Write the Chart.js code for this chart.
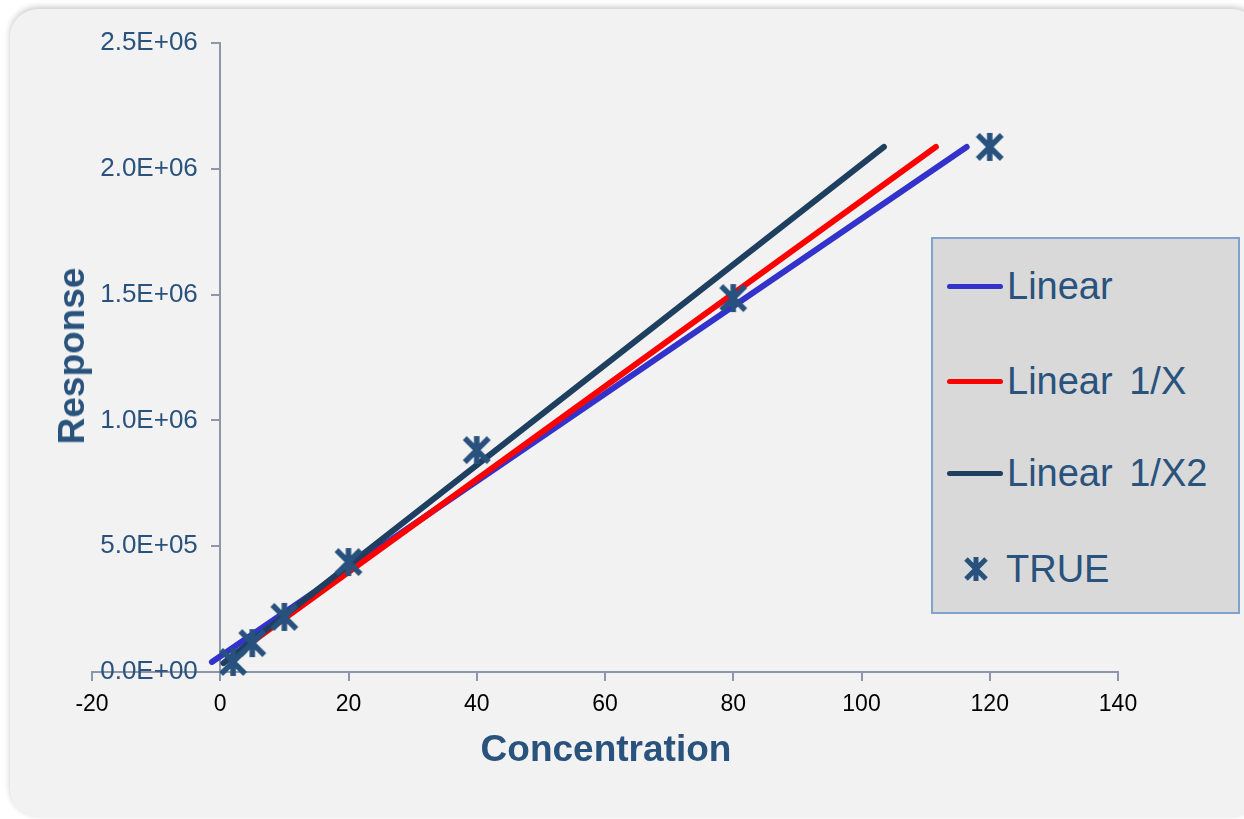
<!DOCTYPE html>
<html>
<head>
<meta charset="utf-8">
<script src="https://cdn.jsdelivr.net/npm/chart.js@4.4.1/dist/chart.umd.min.js"></script>
<style>
  html, body { margin: 0; padding: 0; background: #ffffff; width: 1244px; height: 819px; overflow: hidden; }
  #frame {
    position: absolute; left: 10px; top: 9px; width: 1250px; height: 808px;
    background: #f2f2f2; border-radius: 28px;
    box-shadow: 0 -2px 6px rgba(0,0,0,0.22);
  }
  #chart-wrap { position: absolute; left: 0; top: 0; width: 1244px; height: 819px; }
  .axis-title {
    position: absolute; font-family: "Liberation Sans", Arial, sans-serif;
    font-weight: bold; font-size: 37px; color: #29527c; white-space: nowrap;
  }
  #x-title { left: 606px; top: 749px; transform: translate(-50%, -50%); }
  #y-title { left: 72px; top: 356px; transform: translate(-50%, -50%) rotate(-90deg); }
  #legend {
    position: absolute; left: 931px; top: 237px; width: 305px; height: 373px;
    background: #d9d9d9; border: 2px solid #7ea3cf;
  }
  #legend .item { position: absolute; left: 14px; height: 40px; display: flex; align-items: center; }
  #legend .sample { width: 56px; height: 5px; border-radius: 3px; margin-right: 4px; }
  #legend .label { font-family: "Liberation Sans", Arial, sans-serif; font-size: 38px; word-spacing: 6px; color: #29527c; }
</style>
</head>
<body>
<div id="frame"></div>
<div id="chart-wrap"><canvas id="calib-chart" width="1244" height="819"></canvas></div>
<div class="axis-title" id="x-title">Concentration</div>
<div class="axis-title" id="y-title">Response</div>
<div id="legend"></div>
<script>
// measured calibration points
const trueConc = [2, 5, 10, 20, 40, 80, 120];
const trueResp = [40000, 115000, 219000, 437000, 882000, 1486000, 2087000];

// fitted lines, start and end points
const linearX = [-1.3, 116.4];
const linearY = [40000, 2087000];
const linear1xX = [1.2, 111.6];
const linear1xY = [50000, 2087000];
const linear1x2X = [0.5, 103.5];
const linear1x2Y = [35000, 2087000];

const seriesNames = ['Linear', 'Linear 1/X', 'Linear 1/X2', 'TRUE'];

// axis ranges / steps
const xMin = -20, xMax = 140, xStep = 20;
const yMin = 0, yMax = 2500000, yStep = 500000;

function pairs(xs, ys) {
    return xs.map((x, i) => ({ x: x, y: ys[i] }));
}

function sciLabel(v) {
    if (v === 0) return '0.0E+00';
    const e = Math.floor(Math.log10(v));
    const m = v / Math.pow(10, e);
    return m.toFixed(1) + 'E+' + String(e).padStart(2, '0');
}

// excel-like asterisk marker: vertical bar plus an X
function makeStar(size, color, lw) {
    const c = document.createElement('canvas');
    c.width = size; c.height = size;
    const g = c.getContext('2d');
    g.strokeStyle = color;
    g.lineWidth = lw;
    const p = 3, s = size - 3;
    g.beginPath();
    g.moveTo(size / 2, 1); g.lineTo(size / 2, size - 1);
    g.moveTo(p, p); g.lineTo(s, s);
    g.moveTo(s, p); g.lineTo(p, s);
    g.stroke();
    return c;
}

const starColor = '#28527d';
const starImg = makeStar(30, starColor, 5.5);

function lineSet(label, data, color, order) {
    return {
        label: label,
        data: data,
        showLine: true,
        borderColor: color,
        backgroundColor: color,
        borderWidth: 6,
        borderCapStyle: 'round',
        pointRadius: 0,
        order: order
    };
}

const datasets = [
    lineSet(seriesNames[0], pairs(linearX, linearY), '#3333cc', 3),
    lineSet(seriesNames[1], pairs(linear1xX, linear1xY), '#ff0000', 2),
    lineSet(seriesNames[2], pairs(linear1x2X, linear1x2Y), '#1f3f60', 1),
    {
        label: seriesNames[3],
        data: pairs(trueConc, trueResp),
        showLine: false,
        pointStyle: starImg,
        borderColor: starColor,
        backgroundColor: starColor,
        clip: false,
        order: 0
    }
];

const axisColor = '#8c97aa';
const tickFont = '"Liberation Sans", Arial, sans-serif';

const chart = new Chart(document.querySelector('#calib-chart').getContext('2d'), {
    type: 'scatter',
    data: { datasets: datasets },
    options: {
        responsive: false,
        animation: false,
        layout: { padding: { left: 92, right: 126, top: 43, bottom: 147 } },
        plugins: { legend: { display: false }, tooltip: { enabled: false } },
        scales: {
            x: {
                type: 'linear',
                position: { y: 0 },
                min: xMin, max: xMax,
                ticks: {
                    stepSize: xStep,
                    color: '#000000',
                    padding: 11,
                    font: { family: tickFont, size: 23 }
                },
                grid: { drawOnChartArea: false, drawTicks: true, tickLength: 8, color: axisColor, lineWidth: 2 },
                border: { display: true, color: axisColor, width: 2 }
            },
            // axis line + tick marks through x = 0
            y: {
                type: 'linear',
                position: { x: 0 },
                min: yMin, max: yMax,
                ticks: { stepSize: yStep, display: false },
                grid: { drawOnChartArea: false, drawTicks: true, tickLength: 8, color: axisColor, lineWidth: 2 },
                border: { display: true, color: axisColor, width: 2 }
            },
            // labels only, set a little left of the axis line
            yLabels: {
                type: 'linear',
                axis: 'y',
                position: { x: -3.5 },
                min: yMin, max: yMax,
                ticks: {
                    stepSize: yStep,
                    color: '#29527c',
                    callback: v => sciLabel(v),
                    font: { family: tickFont, size: 26 }
                },
                grid: { display: false },
                border: { display: false }
            }
        }
    }
});

// html legend built from the datasets
const legendBox = document.querySelector('#legend');
const rowTops = [27, 122, 214, 310];
chart.data.datasets.forEach((ds, i) => {
    const item = document.createElement('div');
    item.className = 'item';
    item.style.top = rowTops[i] + 'px';
    if (ds.showLine) {
        const sample = document.createElement('div');
        sample.className = 'sample';
        sample.style.background = ds.borderColor;
        item.appendChild(sample);
    } else {
        const mark = makeStar(26, ds.borderColor, 5);
        mark.style.margin = '0 17px 0 16px';
        item.appendChild(mark);
    }
    const label = document.createElement('span');
    label.className = 'label';
    label.textContent = ds.label;
    item.appendChild(label);
    legendBox.appendChild(item);
});
</script>
</body>
</html>
